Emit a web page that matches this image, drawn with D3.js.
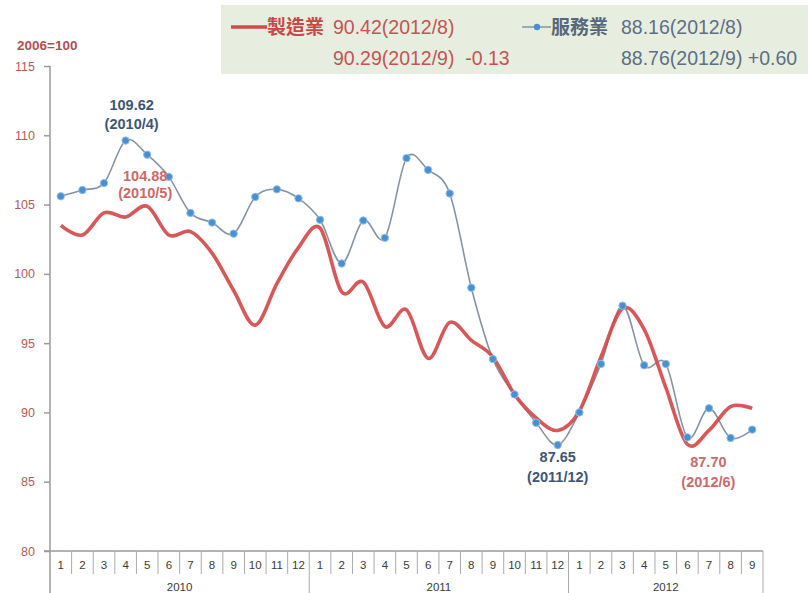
<!DOCTYPE html>
<html><head><meta charset="utf-8">
<script src="https://cdn.jsdelivr.net/npm/d3@7"></script>
<style>body{margin:0;background:#fff}svg{display:block}</style>
</head><body>
<svg id="c" width="808" height="593"></svg>
<script>
const years = ["2010", "2011", "2012"];
const monthsPerYear = [12, 12, 9];
const yTicks = [80, 85, 90, 95, 100, 105, 110, 115];
const manufacturing = [103.5, 102.8, 104.4, 104.1, 104.88, 102.8, 103.05, 101.5, 98.8, 96.3, 99.3, 101.9,
  103.3, 98.7, 99.4, 96.2, 97.4, 93.9, 96.5, 95.2, 94.0, 91.3, 89.6, 88.7,
  90.1, 94.0, 97.5, 96.0, 91.8, 87.70, 88.7, 90.42, 90.29];
const services = [105.6, 106.05, 106.55, 109.62, 108.6, 107.0, 104.4, 103.7, 102.9, 105.55, 106.1, 105.45,
  103.9, 100.75, 103.85, 102.6, 108.35, 107.5, 105.8, 99.0, 93.85, 91.3, 89.25, 87.65,
  90.0, 93.5, 97.7, 93.4, 93.5, 88.2, 90.3, 88.16, 88.76];
const seriesNames = ["製造業", "服務業"];
const legendLines = [["90.42(2012/8)", "90.29(2012/9)  -0.13"], ["88.16(2012/8)", "88.76(2012/9) +0.60"]];
const annotations = [
  {series: 1, idx: 3, lines: ["109.62", "(2010/4)"]},
  {series: 0, idx: 4, lines: ["104.88", "(2010/5)"]},
  {series: 1, idx: 23, lines: ["87.65", "(2011/12)"]},
  {series: 0, idx: 29, lines: ["87.70", "(2012/6)"]}
];

const cats = [];
years.forEach((y, yi) => { for (let m = 1; m <= monthsPerYear[yi]; m++) cats.push({year: y, month: m}); });

const svg = d3.select("#c");
const RED = "#d44a4a", BLUE = "#4a8fd2", GREYLINE = "#8494a4", SLATE = "#3f5573", REDTXT = "#c25555";
const FONT = "'Liberation Sans', Arial, sans-serif";
const x = d3.scaleBand().domain(d3.range(cats.length)).range([50, 763]).padding(0);
const y = d3.scaleLinear().domain([80, 115]).range([551, 66]);
const cx = i => x(i) + x.bandwidth() / 2;

// legend box
svg.append("rect").attr("x", 221).attr("y", 5).attr("width", 600).attr("height", 69).attr("fill", "#e8eedf");
const lg = svg.append("g").style("font-family", FONT).style("font-size", "19.5px");
lg.append("line").attr("x1", 231).attr("x2", 267).attr("y1", 27).attr("y2", 27).attr("stroke", RED).attr("stroke-width", 3.5);
lg.append("text").attr("x", 267).attr("y", 34).attr("fill", "#c84848").style("font-family", "'Noto Sans CJK TC'").style("font-size", "19px").style("font-weight", "bold").text(seriesNames[0]);
lg.append("text").attr("x", 333).attr("y", 34).attr("fill", REDTXT).text(legendLines[0][0]);
lg.append("text").attr("x", 333).attr("y", 65).attr("fill", REDTXT).style("white-space", "pre").text(legendLines[0][1]);
lg.append("line").attr("x1", 522).attr("x2", 551).attr("y1", 27).attr("y2", 27).attr("stroke", GREYLINE).attr("stroke-width", 1.5);
lg.append("circle").attr("cx", 537).attr("cy", 27).attr("r", 3.2).attr("fill", BLUE);
lg.append("text").attr("x", 551).attr("y", 34).attr("fill", "#56687e").style("font-family", "'Noto Sans CJK TC'").style("font-size", "19px").style("font-weight", "bold").text(seriesNames[1]);
lg.append("text").attr("x", 621).attr("y", 34).attr("fill", "#5d6f85").text(legendLines[1][0]);
lg.append("text").attr("x", 621).attr("y", 65).attr("fill", "#5d6f85").text(legendLines[1][1]);

// y axis
svg.append("text").attr("x", 17).attr("y", 50).attr("fill", "#b05050")
  .style("font-family", FONT).style("font-size", "13.5px").style("font-weight", "bold").text("2006=100");
const yAxis = svg.append("g").attr("transform", "translate(50,0)")
  .call(d3.axisLeft(y).tickValues(yTicks).tickSize(6).tickPadding(9).tickSizeOuter(0));
yAxis.select(".domain").remove();
yAxis.selectAll(".tick line").attr("stroke", "#9a9a9a").attr("stroke-width", 1.5);
yAxis.selectAll(".tick text").attr("fill", "#b35a5a").style("font-family", FONT).style("font-size", "12.5px");
svg.append("line").attr("x1", 50).attr("x2", 50).attr("y1", y(115)).attr("y2", 593).attr("stroke", "#9a9a9a").attr("stroke-width", 1.5);
svg.append("line").attr("x1", 44).attr("x2", 763).attr("y1", y(80)).attr("y2", y(80)).attr("stroke", "#9a9a9a").attr("stroke-width", 1.5);

// category axis (multi-level)
const xa = svg.append("g");
cats.forEach((c, i) => {
  if (i > 0 && c.month !== 1) {
    xa.append("line").attr("x1", x(i)).attr("x2", x(i)).attr("y1", 551).attr("y2", 574).attr("stroke", "#aaa").attr("stroke-width", 1);
  }
  xa.append("text").attr("x", cx(i)).attr("y", 569).attr("text-anchor", "middle").attr("fill", "#3a3a3a")
    .style("font-family", FONT).style("font-size", "11.5px").text(c.month);
});
let start = 0;
years.forEach((yr, yi) => {
  const end = start + monthsPerYear[yi];
  const x0 = x(start), x1 = x(end - 1) + x.bandwidth();
  xa.append("line").attr("x1", x1).attr("x2", x1).attr("y1", 551).attr("y2", 593).attr("stroke", "#aaa").attr("stroke-width", 1);
  xa.append("text").attr("x", (x0 + x1) / 2).attr("y", 591).attr("text-anchor", "middle").attr("fill", "#3a3a3a")
    .style("font-family", FONT).style("font-size", "11.5px").text(yr);
  start = end;
});

// lines
const line = d3.line().x((d, i) => cx(i)).y(d => y(d)).curve(d3.curveCatmullRom.alpha(0));
svg.append("path").datum(services).attr("d", line).attr("fill", "none").attr("stroke", GREYLINE).attr("stroke-width", 1.6);
svg.append("path").datum(manufacturing).attr("d", line).attr("fill", "none").attr("stroke", RED).attr("stroke-width", 3.6).attr("stroke-opacity", 0.92);
svg.append("g").selectAll("circle").data(services).join("circle")
  .attr("cx", (d, i) => cx(i)).attr("cy", d => y(d)).attr("r", 3.7)
  .attr("fill", BLUE).attr("stroke", "#8fc0ea").attr("stroke-width", 1);

// annotations
const offs = [{dy1: -31, dy2: -12}, {dy1: -25, dy2: -8}, {dy1: 17, dy2: 37}, {dy1: 23, dy2: 43}];
annotations.forEach((a, k) => {
  const val = (a.series === 0 ? manufacturing : services)[a.idx];
  const col = a.series === 0 ? "#c96a6a" : SLATE;
  const xx = cx(a.idx) + (a.idx === 3 ? 6 : a.idx === 4 ? -2 : a.idx === 23 ? 0 : 21);
  a.lines.forEach((t, j) => {
    svg.append("text").attr("x", xx).attr("y", y(val) + (j === 0 ? offs[k].dy1 : offs[k].dy2))
      .attr("text-anchor", "middle").attr("fill", col)
      .style("font-family", FONT).style("font-size", "14.5px").style("font-weight", "bold").text(t);
  });
});
</script>
</body></html>
